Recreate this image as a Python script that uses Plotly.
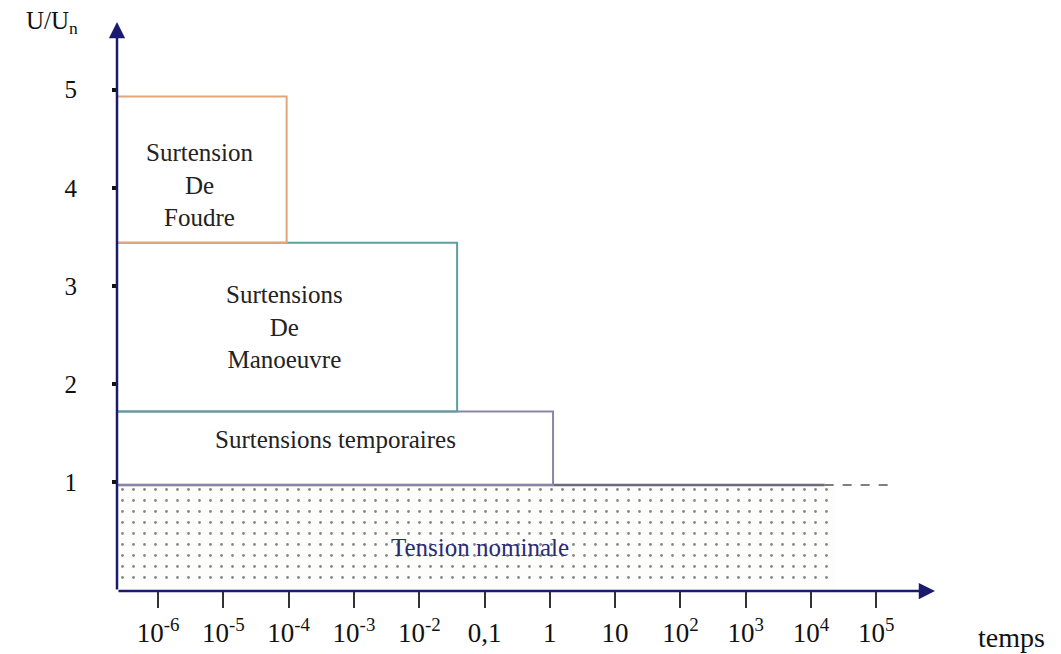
import math
import plotly.graph_objects as go

# ---- data ----
x_tick_vals = [1e-6, 1e-5, 1e-4, 1e-3, 1e-2, 1e-1, 1, 10, 1e2, 1e3, 1e4, 1e5]
x_tick_text = ["10<sup>-6</sup>", "10<sup>-5</sup>", "10<sup>-4</sup>", "10<sup>-3</sup>",
               "10<sup>-2</sup>", "0,1", "1", "10", "10<sup>2</sup>", "10<sup>3</sup>",
               "10<sup>4</sup>", "10<sup>5</sup>"]
y_tick_vals = [1, 2, 3, 4, 5]
y_tick_text = ["1", "2", "3", "4", "5"]

zones = ["Surtensions temporaires", "Surtensions De Manoeuvre", "Surtension De Foudre"]
zone_bottom = [0.97, 1.72, 3.44]
zone_top = [1.72, 3.44, 4.93]
zone_end_time = [1.12, 0.038, 9.3e-5]
zone_colors = ["#8a86a8", "#5f9ea0", "#e3a57a"]
zone_labels = ["Surtensions temporaires", "Surtensions<br>De<br>Manoeuvre", "Surtension<br>De<br>Foudre"]
zone_label_t = [10**-3.29, 10**-4.06, 10**-5.36]
zone_label_u = [1.43, 2.58, 4.03]

nominal_level = 0.97
nominal_bottom = -0.07
nominal_end_time = 10**4.37
nominal_solid_end = 10**4.21
nominal_dash_end = 10**5.2
nominal_label_t = 10**-1.07
nominal_label_u = 0.33

x_range_log = [-6.63, 5.9]
y_range = [-0.11, 5.69]
t_left = 10**x_range_log[0]

NAVY = "#1c1a6e"
SERIF = "Liberation Serif, Times New Roman, serif"

fig = go.Figure()

# nominal dotted area
fig.add_trace(go.Scatter(
    x=[t_left, nominal_end_time, nominal_end_time, t_left, t_left],
    y=[nominal_bottom, nominal_bottom, nominal_level, nominal_level, nominal_bottom],
    mode="lines", fill="toself", line=dict(width=0),
    fillcolor="rgba(0,0,0,0)",
    fillpattern=dict(shape=".", size=11, solidity=0.05, fgcolor="#111111", bgcolor="#fdfdfb"),
    showlegend=False, hoverinfo="skip"))

# nominal level line: solid then dashed
fig.add_trace(go.Scatter(x=[t_left, nominal_solid_end], y=[nominal_level, nominal_level],
                         mode="lines", line=dict(color="#6a6a7a", width=2.5),
                         showlegend=False, hoverinfo="skip"))
fig.add_trace(go.Scatter(x=[nominal_solid_end, nominal_dash_end], y=[nominal_level, nominal_level],
                         mode="lines", line=dict(color="#555555", width=1.5, dash="dash"),
                         showlegend=False, hoverinfo="skip"))

# zone rectangles
for name, b, t, e, c in zip(zones, zone_bottom, zone_top, zone_end_time, zone_colors):
    fig.add_trace(go.Scatter(
        x=[t_left, e, e, t_left], y=[t, t, b, b],
        mode="lines", line=dict(color=c, width=2),
        name=name, showlegend=False, hoverinfo="skip"))

# zone labels
for lab, tx, uy in zip(zone_labels, zone_label_t, zone_label_u):
    fig.add_annotation(x=math.log10(tx), y=uy, xref="x", yref="y", text=lab, showarrow=False,
                       font=dict(family=SERIF, size=25, color="#222222"), align="center")
fig.add_annotation(x=math.log10(nominal_label_t), y=nominal_label_u, xref="x", yref="y",
                   text="Tension nominale", showarrow=False,
                   font=dict(family=SERIF, size=25, color="#2a2a78"))

# axes arrows
fig.add_annotation(x=1, y=0, xref="paper", yref="paper", ax=-818, ay=0, text="",
                   showarrow=True, arrowhead=2, arrowsize=1.3, arrowwidth=2.5, arrowcolor=NAVY)
fig.add_annotation(x=0, y=1, xref="paper", yref="paper", ax=0, ay=569, text="",
                   showarrow=True, arrowhead=2, arrowsize=1.3, arrowwidth=2.5, arrowcolor=NAVY)

# axis titles
fig.add_annotation(x=-0.08, y=1.0, xref="paper", yref="paper", text="U/U<sub>n</sub>",
                   showarrow=False, xanchor="center", yanchor="middle",
                   font=dict(family=SERIF, size=25, color="#111111"))
fig.add_annotation(x=1.093, y=-0.081, xref="paper", yref="paper", text="temps", showarrow=False,
                   xanchor="center", yanchor="middle",
                   font=dict(family=SERIF, size=28, color="#111111"))

fig.update_layout(
    width=1061, height=654,
    margin=dict(l=117, r=126, t=22, b=63),
    paper_bgcolor="white", plot_bgcolor="white",
    xaxis=dict(type="log", range=x_range_log, tickvals=x_tick_vals, ticktext=x_tick_text,
               showgrid=False, zeroline=False, showline=False, automargin=False,
               ticks="outside", ticklen=16, tickwidth=2, tickcolor="#333333",
               ticklabelstandoff=2,
               tickfont=dict(family=SERIF, size=27, color="#111111")),
    yaxis=dict(range=y_range, tickvals=y_tick_vals, ticktext=y_tick_text,
               showgrid=False, zeroline=False, showline=False, automargin=False,
               ticks="outside", ticklen=4, tickwidth=4, tickcolor="#111111",
               ticklabelstandoff=30,
               tickfont=dict(family=SERIF, size=25, color="#111111")),
)

fig.write_html("out.html", config={"displayModeBar": False})

# remove the default page margin so the figure fills the window exactly
with open("out.html", "r", encoding="utf-8") as f:
    html = f.read()
html = html.replace("<head>", "<head><style>html,body{margin:0;padding:0;overflow:hidden;}</style>", 1)
with open("out.html", "w", encoding="utf-8") as f:
    f.write(html)
